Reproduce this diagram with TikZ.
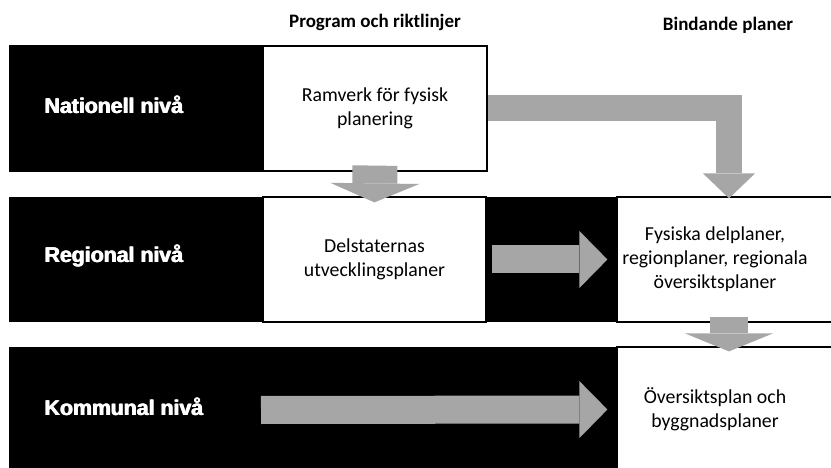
\documentclass[tikz,border=0pt]{standalone}
\usepackage{fontspec}
\setmainfont{Carlito}
\newfontfamily\levelfont{Liberation Sans}
\usetikzlibrary{arrows.meta}
\definecolor{arrowgray}{RGB}{166,166,166}
% thick lettering for the level names
\newcommand{\heavytext}[1]{\rlap{#1}\kern0.5pt\rlap{\raisebox{0.3pt}{#1}}\kern0.5pt#1}

\begin{document}
\begin{tikzpicture}[x=1pt,y=-1pt,
	planbox/.style={rectangle,draw=black,fill=white,line width=1.2pt,inner sep=0pt,minimum width=224pt,minimum height=125pt,font=\fontsize{19.8}{24}\selectfont},
	level/.style={anchor=west,inner sep=0pt,text=white,font=\levelfont\bfseries\fontsize{21.3}{24}\selectfont},
	heading/.style={inner sep=0pt,font=\bfseries\fontsize{19}{23}\selectfont},
	blockarrow/.style n args={3}{draw=arrowgray,line width=#1,line join=miter,-{Triangle[length=#2,width=#3,line width=0pt]}}]
	\useasboundingbox[fill=white] (0,0) rectangle (831,468);

	% column headings
	\node[heading] (prog) at (375,22) {Program och riktlinjer};
	\node[heading] (bind) at (728,25) {Bindande planer};

	% black level bands
	\fill[black] (9,45) rectangle (487,172);
	\fill[black] (9,197) rectangle (617,322);
	\fill[black] (9,347) rectangle (617,472);

	\foreach \n/\y/\t in {nat/105/Nationell nivå,reg/256/Regional nivå,kom/407/Kommunal nivå}
		\node[level] (\n) at (44,\y) {\heavytext{\t}};

	% plan boxes
	\node[planbox] (ramverk) at (375,108.5) {\parbox{200pt}{\centering Ramverk för fysisk\\planering}};
	\node[planbox,minimum width=223pt] (delstat) at (374.5,259.5) {\parbox{200pt}{\centering Delstaternas\\utvecklingsplaner}};
	\node[planbox] (fysiska) at (729,259.5) {\hspace*{-28pt}\parbox{200pt}{\centering Fysiska delplaner,\\regionplaner, regionala\\översiktsplaner}};
	\node[planbox] (oversikt) at (729,409.5) {\hspace*{-28pt}\parbox{200pt}{\centering Översiktsplan och\\byggnadsplaner}};

	% block arrows
	\coordinate (komstart) at (261,410);
	\draw[blockarrow={45pt}{19pt}{89pt}] ([yshift=6pt]ramverk.south) -- ([yshift=-6pt]delstat.north);
	\draw[blockarrow={26pt}{25pt}{52pt}] (ramverk.east) -| ([yshift=-2pt]fysiska.north);
	\draw[blockarrow={28pt}{28pt}{57pt}] ([xshift=5pt]delstat.east) -- ([xshift=-9pt]fysiska.west);
	\draw[blockarrow={28pt}{28pt}{57pt}] (komstart) -- ([xshift=-9pt]oversikt.west);
	\draw[blockarrow={38pt}{18pt}{88pt}] ([yshift=6pt]fysiska.south) -- ([yshift=-5pt]oversikt.north);
\end{tikzpicture}
\end{document}
